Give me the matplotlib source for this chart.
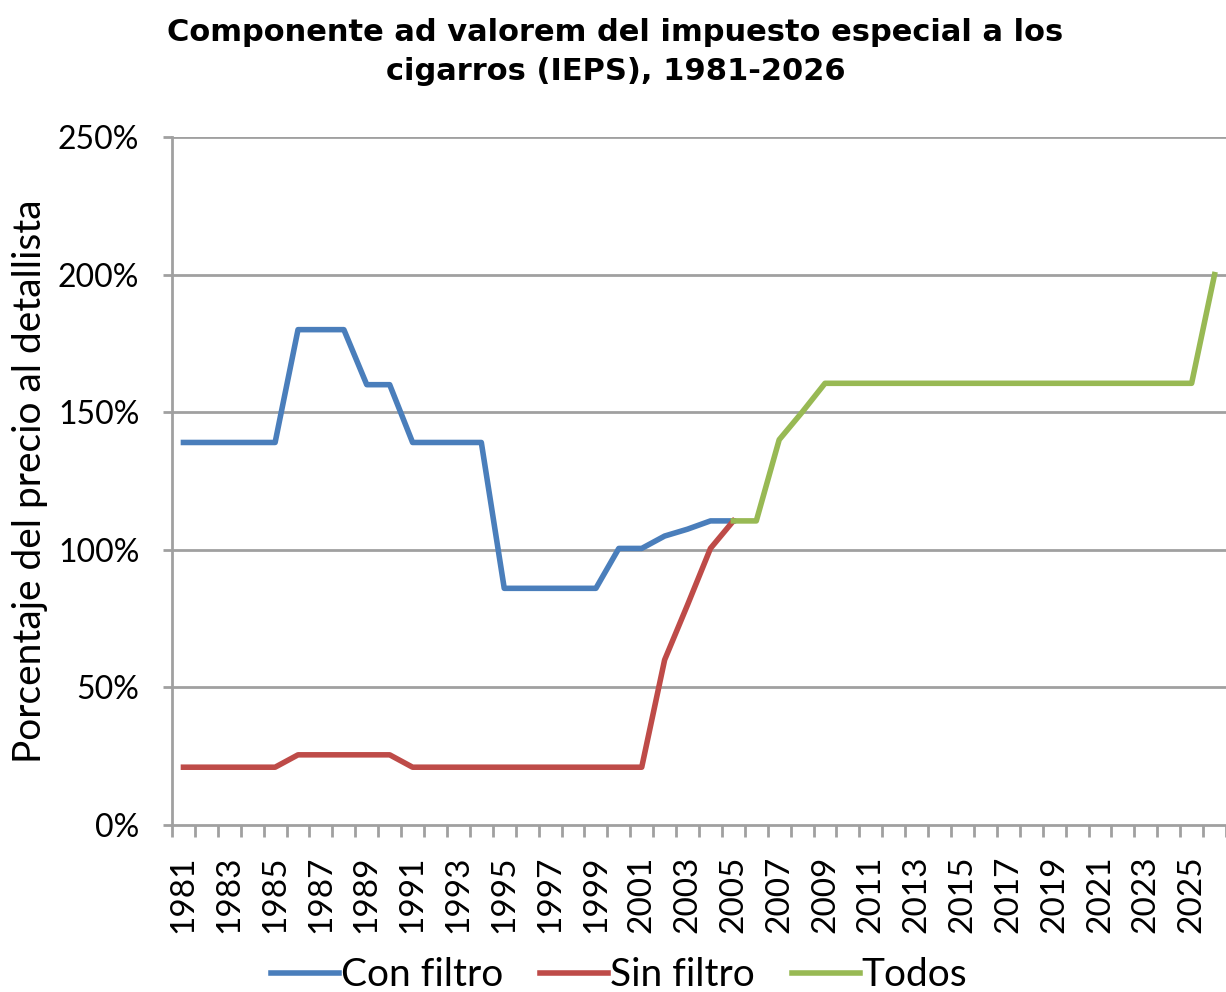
import matplotlib
matplotlib.use("Agg")
import matplotlib.pyplot as plt
import numpy as np

years = list(range(1981, 2027))
con_filtro_years = list(range(1981, 2006))
con_filtro = [139, 139, 139, 139, 139, 180, 180, 180, 160, 160,
              139, 139, 139, 139, 86, 86, 86, 86, 86, 100.5,
              100.5, 105, 107.5, 110.5, 110.5]
sin_filtro_years = list(range(1981, 2006))
sin_filtro = [21, 21, 21, 21, 21, 25.5, 25.5, 25.5, 25.5, 25.5,
              21, 21, 21, 21, 21, 21, 21, 21, 21, 21,
              21, 60, 80, 100.5, 110.5]
todos_years = list(range(2005, 2027))
todos = [110.5, 110.5, 140, 150, 160.5] + [160.5] * 16 + [200]

title = "Componente ad valorem del impuesto especial a los\ncigarros (IEPS), 1981-2026"
ylabel = "Porcentaje del precio al detallista"

fig = plt.figure(figsize=(12.26, 9.92), dpi=100)
ax = fig.add_axes([172/1226, 1-825/992, 1-172/1226, (825-137)/992])

lw = 4.0
ax.plot(con_filtro_years, con_filtro, color="#4a7ebb", lw=lw, label="Con filtro")
ax.plot(sin_filtro_years, sin_filtro, color="#be4b48", lw=lw, label="Sin filtro")
ax.plot(todos_years, todos, color="#98b954", lw=lw, label="Todos")

ax.set_xlim(1980.5, 2026.5)
ax.set_ylim(0, 250)
yt = [0, 50, 100, 150, 200, 250]
ax.set_yticks(yt)
ax.set_yticklabels([f"{v}%" for v in yt], family="Lato", fontsize=23)
for v in yt[1:]:
    ax.axhline(v, color="#a0a0a0", lw=2, zorder=0)

ax.set_xticks([y for y in years if (y - 1981) % 2 == 0])
ax.set_xticklabels([str(y) for y in years if (y - 1981) % 2 == 0],
                   rotation=90, family="Lato", fontsize=24)
ax.set_xticks(np.arange(1980.5, 2027, 1), minor=True)
ax.tick_params(axis="x", which="major", length=0, pad=22)
ax.tick_params(axis="x", which="minor", length=8.5, width=2, color="#a0a0a0", direction="out")
ax.tick_params(axis="y", length=6.5, width=2, color="#a0a0a0", direction="out", pad=17)

for s in ["top", "right"]:
    ax.spines[s].set_visible(False)
for s in ["left", "bottom"]:
    ax.spines[s].set_color("#a0a0a0")
    ax.spines[s].set_linewidth(2)

ax.set_ylabel(ylabel, family="Lato", fontsize=28)
ax.yaxis.set_label_coords(-0.118, 0.5)

fig.text(0.502, 0.982, title, ha="center", va="top", fontsize=22, fontweight="bold",
         family="DejaVu Sans", linespacing=1.42)

leg = fig.legend(loc="center", bbox_to_anchor=(0.505, 0.017), ncol=3, frameon=False,
                 prop={"family": "Lato", "size": 28}, handlelength=1.75, handletextpad=0.05,
                 columnspacing=0.95)
fig.savefig("out.png", dpi=100)
